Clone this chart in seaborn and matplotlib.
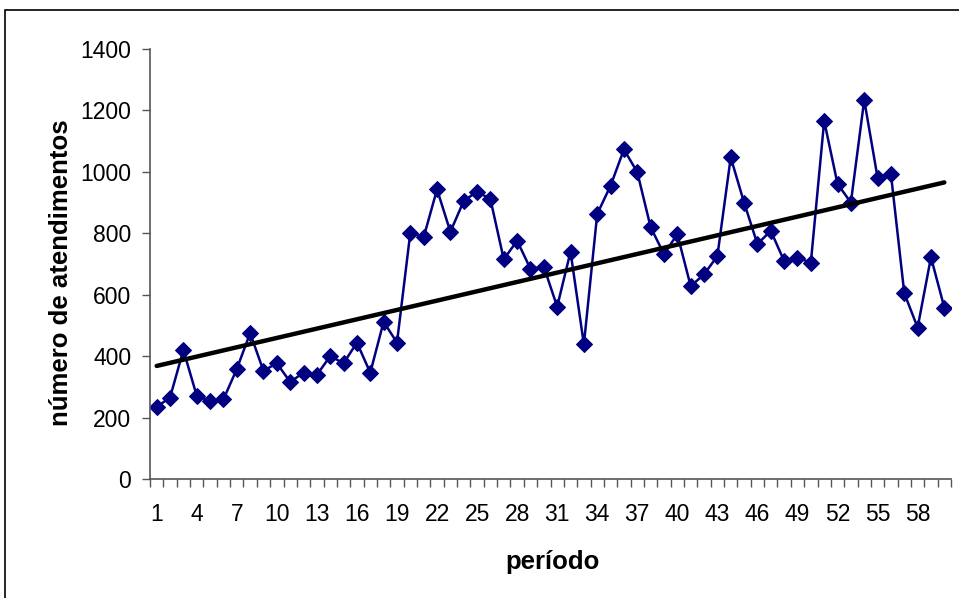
import numpy as np
import pandas as pd
import seaborn as sns
import matplotlib.pyplot as plt
from matplotlib.patches import Rectangle
from matplotlib.ticker import FixedLocator

periodo = list(range(1, 61))
atendimentos = [235, 265, 420, 271, 254, 259, 358, 475, 352, 377,
                316, 346, 339, 400, 377, 444, 346, 512, 444, 802,
                787, 943, 805, 905, 936, 911, 715, 776, 684, 691,
                561, 740, 438, 863, 955, 1073, 999, 820, 732, 797,
                628, 666, 726, 1047, 900, 765, 808, 710, 721, 704,
                1166, 961, 900, 1234, 981, 993, 605, 493, 722, 558]
xtick_labels = list(range(1, 61, 3))
yticks = [0, 200, 400, 600, 800, 1000, 1200, 1400]

df = pd.DataFrame({"periodo": periodo, "atendimentos": atendimentos})

sns.set_style("white")
plt.rcParams['font.family'] = ['Liberation Sans', 'DejaVu Sans']
plt.rcParams['text.color'] = 'black'
plt.rcParams['axes.labelcolor'] = 'black'

fig = plt.figure(figsize=(9.59, 5.98), dpi=100)
ax = fig.add_axes([150 / 959, 1 - 479 / 598, 801 / 959, 430 / 598])

# outer chart border (Excel style)
fig.patches.append(Rectangle((5 / 959, -0.05), 1.2, 1 - 10 / 598 + 0.05,
                             transform=fig.transFigure, fill=False,
                             edgecolor="black", linewidth=1.2))

sns.lineplot(data=df, x="periodo", y="atendimentos", ax=ax, color="#000080",
             linewidth=1.8, marker="D", markersize=8.5,
             markeredgecolor="#000080")
sns.regplot(data=df, x="periodo", y="atendimentos", ax=ax, scatter=False,
            ci=None, truncate=True, line_kws={"color": "black", "linewidth": 3.2})

ax.set_xlim(0.5, 60.5)
ax.set_ylim(0, 1400)
ax.set_yticks(yticks)
ax.set_xticks(xtick_labels)
ax.set_xticklabels([str(x) for x in xtick_labels])
ax.xaxis.set_minor_locator(FixedLocator(np.arange(0.5, 61, 1)))
ax.tick_params(axis="x", which="major", length=0, pad=17, labelsize=16.5,
               labelcolor="black")
ax.tick_params(axis="x", which="minor", length=6, width=1, color="#555555",
               direction="out", bottom=True)
ax.tick_params(axis="y", which="major", length=6, width=1, color="#555555",
               direction="out", left=True, pad=7.5, labelsize=16.5,
               labelcolor="black")

for s in ["top", "right"]:
    ax.spines[s].set_visible(False)
for s in ["left", "bottom"]:
    ax.spines[s].set_color("#555555")
    ax.spines[s].set_linewidth(1.2)

ax.set_xlabel("período", fontsize=18.5, fontweight="bold")
ax.set_ylabel("número de atendimentos", fontsize=18.5, fontweight="bold")
ax.xaxis.set_label_coords(0.502, -0.165)
ax.yaxis.set_label_coords(-0.096, 0.48)

fig.savefig("out.png", dpi=100)
